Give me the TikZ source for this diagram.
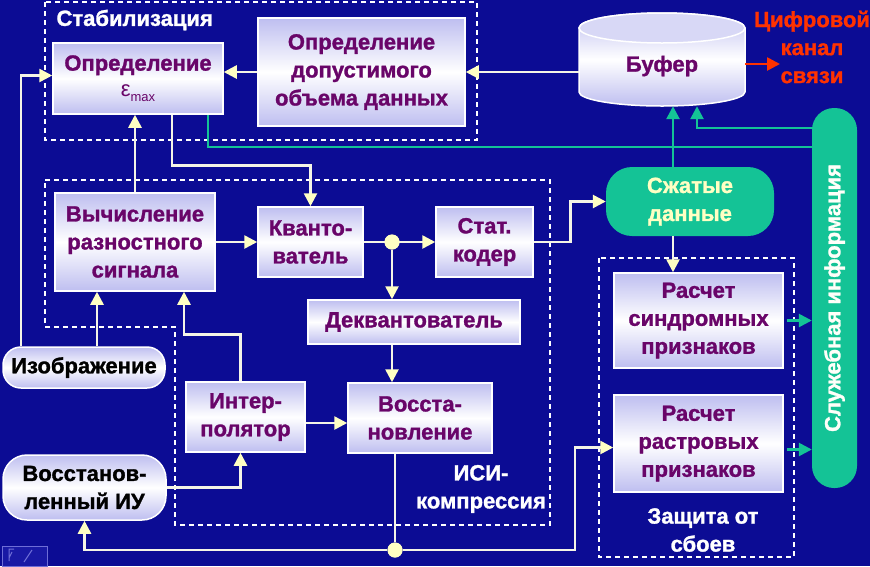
\documentclass[tikz,border=0pt]{standalone}
\usepackage{fontspec}
\setmainfont{Liberation Sans}[BoldFeatures={FakeBold=1.3}]
\usetikzlibrary{arrows.meta,calc}
\definecolor{bg}{RGB}{12,12,148}
\definecolor{lav}{RGB}{190,190,240}
\definecolor{txtp}{RGB}{105,5,105}
\definecolor{cream}{RGB}{255,255,195}
\definecolor{linec}{RGB}{245,245,230}
\definecolor{tealc}{RGB}{20,195,150}
\definecolor{redc}{RGB}{255,50,0}
\definecolor{navc}{RGB}{25,25,165}
\definecolor{navl}{RGB}{110,110,215}
\newcommand\bfnt{\fontsize{22}{28}\selectfont\bfseries}
\begin{document}
\begin{tikzpicture}[x=1pt,y=-1pt,
  box/.style={draw=white, line width=1.5pt, top color=lav, bottom color=lav, middle color=white,
    text=txtp, font=\bfnt, align=center, inner sep=0pt},
  pill/.style={box, rounded corners=18pt, text=black},
  tpill/.style={fill=tealc, rounded corners=26pt, text=cream, font=\bfnt, align=center, inner sep=0pt},
  arr/.style={draw=linec, line width=2.6pt, -{Triangle[length=13pt,width=13pt,color=cream]}},
  tarr/.style={draw=tealc, line width=2.6pt, -{Triangle[length=13pt,width=13pt,color=tealc]}},
  dbox/.style={draw=white, line width=1.2pt, dash pattern=on 5pt off 4pt},
  lbl/.style={text=white, font=\bfnt, align=center},
  junc/.style={circle, fill=cream, minimum size=15pt, inner sep=0pt}]
\useasboundingbox (0,0) rectangle (870,566);
\fill[bg] (0,0) rectangle (870,566);

% dashed groups
\draw[dbox] (45,2) rectangle (477,140);
\draw[dbox] (45,180) -- (550,180) -- (550,525) -- (175,525) -- (175,327) -- (45,327) -- cycle;
\draw[dbox] (599,258) rectangle (794,557);

% group labels
\node[lbl, anchor=west] (lstab) at (53,20) {Стабилизация};
\node[lbl] (lisi) at (481,489) {ИСИ-\\компрессия};
\node[lbl] (lzas) at (703,530) {Защита от\\сбоев};

% buffer cylinder
\shade[top color=lav, bottom color=lav, middle color=white, draw=white, line width=1.5pt]
  (579,28) -- (579,92) arc (180:360:83pt and 14pt) -- (745,28) arc (0:180:83pt and 15pt) -- cycle;
\draw[white, line width=1.5pt, fill=lav!60!white] (662,28) ellipse [x radius=83pt, y radius=15pt];
\node[font=\bfnt, text=txtp, minimum width=166pt, minimum height=80pt, inner sep=0pt] (buf) at (662,66) {Буфер};

% boxes
\node[box, minimum width=170pt, minimum height=71pt] (eps) at (138,78.5)
  {Определение\\[-2pt]{\mdseries ε}\raisebox{-5pt}{\fontsize{13}{13}\selectfont\mdseries max}};
\node[box, minimum width=207pt, minimum height=108pt] (dop) at (361.5,72)
  {Определение\\допустимого\\объема данных};
\node[box, minimum width=160pt, minimum height=98pt] (vych) at (135,242)
  {Вычисление\\разностного\\сигнала};
\node[box, minimum width=105pt, minimum height=70pt] (kv) at (310.5,242) {Кванто-\\ватель};
\node[box, minimum width=97pt, minimum height=70pt] (stat) at (484.5,242) {Стат.\\кодер};
\node[box, minimum width=212pt, minimum height=44pt] (dekv) at (414,322) {Деквантователь};
\node[box, minimum width=119pt, minimum height=70pt] (interp) at (245.5,417) {Интер-\\полятор};
\node[box, minimum width=144pt, minimum height=70pt] (voss) at (420,418) {Восста-\\новление};
\node[box, minimum width=169pt, minimum height=95pt] (sind) at (698.5,320.5) {Расчет\\синдромных\\признаков};
\node[box, minimum width=169pt, minimum height=97pt] (rastr) at (698.5,443.5) {Расчет\\растровых\\признаков};
\node[pill, minimum width=162pt, minimum height=41pt] (izo) at (84,367.5) {Изображение};
\node[pill, rounded corners=24pt, minimum width=163pt, minimum height=65pt] (vossiu) at (84.5,487.5) {Восстанов-\\ленный ИУ};
\node[tpill, minimum width=168pt, minimum height=69pt] (szh) at (690,201.5) {Сжатые\\данные};
\node[tpill, rounded corners=22pt, rotate=90, minimum width=380pt, minimum height=45pt, text=white!90!cream] (slu) at (834.5,298) {Служебная информация};
\node[text=redc, font=\bfnt, align=center] (chan) at (812,47) {Цифровой\\канал\\связи};

\node[junc] (j1) at (392,242) {};
\node[junc] (j2) at (395,550) {};
\coordinate (redtip) at (780,64);
\coordinate (bend) at (575,550);

% white connectors
\draw[arr] (dop.west) -- (dop.west -| eps.east);
\draw[arr] (buf.west |- dop.east) -- (dop.east);
\draw[arr] (vych.north) -- (vych.north |- eps.south);
\draw[arr] ([xshift=34pt]eps.south) -- ++(0,51) -| (kv.north);
\draw[arr] ([xshift=-63pt]izo.north) |- ([yshift=3pt]eps.west);
\draw[arr] ([xshift=13pt]izo.north) -- ([xshift=13pt]izo.north |- vych.south);
\draw[arr] (vych.east) -- (kv.west);
\draw[arr] (kv.east) -- (stat.west);
\draw[arr] (j1) -- (j1 |- dekv.north);
\draw[arr] (dekv.south -| j1) -- (voss.north -| j1);
\draw[arr] ([xshift=-5pt]interp.north) -- ++(0,-47) -| ([xshift=49pt]vych.south);
\draw[arr] ([yshift=-6pt]interp.east) -- ([yshift=-6pt]interp.east -| voss.west);
\draw[arr] (vossiu.east) -| ([xshift=-5pt]interp.south);
\draw[linec, line width=2.6pt] (voss.south -| j2) -- (j2);
\draw[arr] (j2) -| (vossiu.south);
\draw[arr] (j2) -- (bend) |- ([yshift=-4pt]rastr.west);
\draw[arr] (stat.east) -- ++(37,0) |- (szh.west);
\draw[arr] ([xshift=-17pt]szh.south) -- ([xshift=-17pt]szh.south |- sind.north);
\node[junc] at (j1) {};
\node[junc] at (j2) {};

% teal connectors
\draw[tarr] ([xshift=-17pt]szh.north) -- ([xshift=-17pt]szh.north |- buf.south);
\draw[tarr] ([yshift=170pt]slu.south) -| ([xshift=35pt]buf.south);
\draw[tarr] ([xshift=70pt]eps.south) |- ([yshift=151pt]slu.south);
\draw[tarr, shorten <=3pt] (sind.east) -- (sind.east -| slu.north);
\draw[tarr, shorten <=3pt] ([yshift=-6pt]rastr.east) -- ([yshift=-6pt]rastr.east -| slu.north);

% red channel arrow
\draw[redc, line width=2.6pt, -{Triangle[length=13pt,width=13pt]}] (buf.east |- redtip) -- (redtip);

% navigation icon
\draw[navl, fill=navc, line width=0.8pt] (2,546) rectangle (47,566);
\draw[navl, line width=1pt] (14,549) -- (9,549) -- (9,561) (12,552) -- (9,558) (32,550) -- (24,562);
\end{tikzpicture}
\end{document}
